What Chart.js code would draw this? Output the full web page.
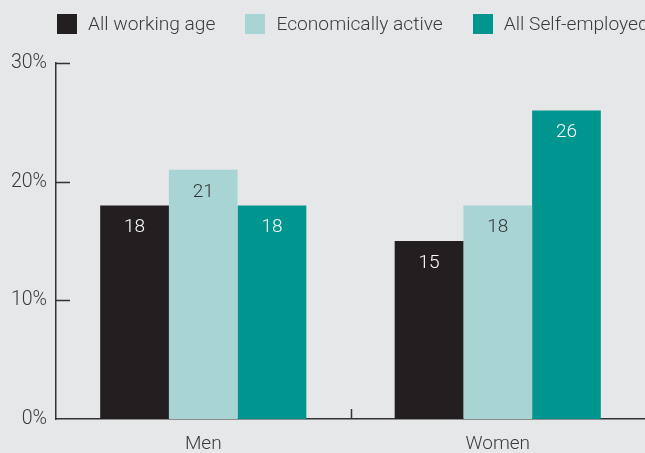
<!DOCTYPE html>
<html>
<head>
<meta charset="utf-8">
<script src="https://cdn.jsdelivr.net/npm/chart.js@4"></script>
<style>
  html, body { margin: 0; padding: 0; background: #e6e7e9; }
  #wrap { position: relative; width: 645px; height: 453px; overflow: hidden; }
  #legenda { position: absolute; left: 57px; top: 12px; display: flex; white-space: nowrap;
             font-family: Roboto, sans-serif; font-weight: 300; font-size: 19.2px; color: #3a3a3a; }
  .item { display: flex; align-items: center; margin-right: 30px; }
  .caixa { width: 20px; height: 20px; margin-right: 11px; }
</style>
</head>
<body>
<div id="wrap">
  <canvas id="grafico" width="645" height="453"></canvas>
  <div id="legenda"></div>
</div>
<script>
// Dados do gráfico
let categorias = ['Men', 'Women'];
let series = ['All working age', 'Economically active', 'All Self-employed'];
let valores = [
    [18, 15],
    [21, 18],
    [18, 26]
];
let ticksY = [0, 10, 20, 30];

let cores = ['#231f20', '#a8d5d3', '#00958e'];
let coresTexto = ['#ffffff', '#333333', '#ffffff'];
let fonte = 'Roboto, sans-serif';

// Legenda em HTML
let legenda = document.getElementById('legenda');
series.forEach((nome, i) => {
    let item = document.createElement('div');
    item.className = 'item';
    item.innerHTML = '<div class="caixa" style="background:' + cores[i] + '"></div>' + nome;
    legenda.appendChild(item);
});

// Rótulos de valor dentro das barras
const rotulos = {
    id: 'rotulos',
    afterDatasetsDraw(chart) {
        let ctx = chart.ctx;
        ctx.save();
        ctx.font = '300 19px ' + fonte;
        ctx.textAlign = 'center';
        ctx.textBaseline = 'middle';
        chart.data.datasets.forEach((ds, i) => {
            chart.getDatasetMeta(i).data.forEach((bar, j) => {
                ctx.fillStyle = coresTexto[i];
                ctx.fillText(ds.data[j], bar.x, bar.y + 22);
            });
        });
        ctx.restore();
    }
};

// Marcas curtas dos eixos (para dentro)
const marcas = {
    id: 'marcas',
    afterDraw(chart) {
        let ctx = chart.ctx;
        let y = chart.scales.y, x = chart.scales.x;
        ctx.save();
        ctx.strokeStyle = '#333';
        ctx.lineWidth = 1.5;
        ctx.beginPath();
        ticksY.slice(1).forEach(v => {
            let py = Math.round(y.getPixelForValue(v)) + 0.5;
            ctx.moveTo(y.right, py);
            ctx.lineTo(y.right + 14, py);
        });
        let meio = (x.getPixelForValue(0) + x.getPixelForValue(1)) / 2;
        ctx.moveTo(Math.round(meio) + 0.5, x.top);
        ctx.lineTo(Math.round(meio) + 0.5, x.top - 10);
        ctx.stroke();
        ctx.restore();
    }
};

new Chart(document.getElementById('grafico'), {
    type: 'bar',
    data: {
        labels: categorias,
        datasets: series.map((nome, i) => ({
            label: nome,
            data: valores[i],
            backgroundColor: cores[i],
            borderWidth: 0,
            barPercentage: 1,
            categoryPercentage: 0.70
        }))
    },
    options: {
        responsive: false,
        animation: false,
        layout: { padding: { top: 63, right: 0, left: 0, bottom: 0 } },
        plugins: { legend: { display: false }, tooltip: { enabled: false } },
        scales: {
            x: {
                grid: { display: false },
                border: { color: '#333', width: 1.5 },
                ticks: { color: '#3a3a3a', font: { family: fonte, size: 19, weight: '300' }, padding: 6 },
                afterFit(s) { s.height = 34; }
            },
            y: {
                min: 0,
                max: 30,
                grid: { display: false },
                border: { color: '#333', width: 1.5 },
                afterBuildTicks(s) { s.ticks = ticksY.map(v => ({ value: v })); },
                ticks: {
                    color: '#3a3a3a',
                    font: { family: fonte, size: 19.5, weight: '300' },
                    padding: 1,
                    callback: v => v + '%'
                },
                afterFit(s) { s.width = 56; }
            }
        }
    },
    plugins: [rotulos, marcas]
});
</script>
</body>
</html>
